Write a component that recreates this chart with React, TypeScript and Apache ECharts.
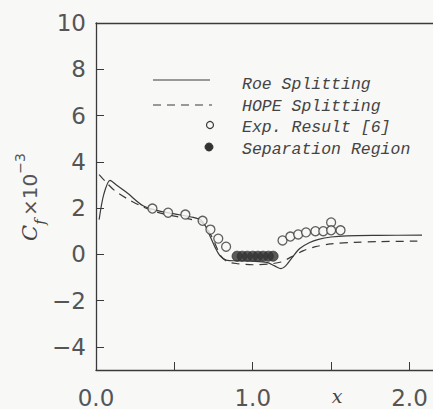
import React, { useEffect, useRef } from "react";
import * as echarts from "echarts";

// Roe Splitting (solid)
const roeX = [0.02, 0.05, 0.09, 0.13, 0.2, 0.3, 0.4, 0.5, 0.62, 0.67, 0.7, 0.73, 0.76, 0.79, 0.83, 0.9, 1.0, 1.09, 1.14, 1.18, 1.21, 1.25, 1.3, 1.36, 1.42, 1.5, 1.6, 1.8, 2.08];
const roeY = [1.5, 2.6, 3.2, 3.0, 2.65, 2.1, 1.88, 1.75, 1.6, 1.48, 1.2, 0.75, 0.3, -0.05, -0.25, -0.28, -0.3, -0.35, -0.5, -0.62, -0.5, -0.15, 0.25, 0.5, 0.65, 0.75, 0.8, 0.82, 0.83];

// HOPE Splitting (dashed)
const hopeX = [0.02, 0.06, 0.12, 0.2, 0.3, 0.4, 0.5, 0.6, 0.67, 0.71, 0.74, 0.77, 0.8, 0.84, 0.9, 1.0, 1.1, 1.18, 1.25, 1.32, 1.4, 1.5, 1.65, 1.8, 2.05];
const hopeY = [3.45, 3.15, 2.75, 2.4, 2.05, 1.8, 1.65, 1.52, 1.4, 1.1, 0.75, 0.3, -0.1, -0.32, -0.4, -0.45, -0.42, -0.33, -0.1, 0.15, 0.33, 0.45, 0.52, 0.55, 0.57];

// Exp. Result [6] (open circles)
const expX = [0.36, 0.46, 0.57, 0.68, 0.73, 0.78, 0.83, 1.19, 1.24, 1.29, 1.34, 1.4, 1.45, 1.5, 1.5, 1.56];
const expY = [1.98, 1.8, 1.72, 1.45, 1.07, 0.68, 0.33, 0.6, 0.77, 0.86, 0.95, 1.0, 1.0, 1.38, 1.04, 1.04];

// Separation Region (filled circles)
const sepX = [0.9, 0.933, 0.966, 1.0, 1.033, 1.066, 1.1, 1.13];
const sepY = [-0.08, -0.08, -0.08, -0.08, -0.08, -0.08, -0.08, -0.08];

const yTicks = [-4, -2, 0, 2, 4, 6, 8, 10];
const xLabelValues = [0, 1, 1.5, 2];
const xTickValues = [0.5, 1, 1.5, 2];
const legendNames = ["Roe Splitting", "HOPE Splitting", "Exp. Result [6]", "Separation Region"];

const zip = (xs: number[], ys: number[]) => xs.map((x, i) => [x, ys[i]]);

const INK = "#3a3a3a";
const BG = "#f8f8f6";

export default function App() {
  const ref = useRef<HTMLDivElement>(null);
  useEffect(() => {
    if (!ref.current) return;
    const chart = echarts.init(ref.current, undefined, { renderer: "svg" });
    const legendFont = {
      fontFamily: "Liberation Mono",
      fontStyle: "italic",
      fontSize: 16.5,
      fill: "#444",
    };
    chart.setOption({
      animation: false,
      backgroundColor: BG,
      grid: { left: 96, top: 23, right: 0, bottom: 39 },
      xAxis: [
        {
          type: "value",
          min: 0,
          max: 2.15,
          position: "bottom",
          splitLine: { show: false },
          axisLine: { show: true, onZero: false, lineStyle: { color: INK, width: 1.3 } },
          axisTick: { show: true, inside: true, length: 8, customValues: xTickValues, lineStyle: { color: INK, width: 1 } },
          axisLabel: {
            show: true,
            customValues: xLabelValues,
            margin: 16,
            fontFamily: "DejaVu Sans",
            fontSize: 23,
            color: "#555",
            formatter: (v: number) => (v === 1.5 ? "{i|x}" : v.toFixed(1)),
            rich: {
              i: {
                fontFamily: "DejaVu Serif",
                fontStyle: "italic",
                fontSize: 19,
                color: "#444",
                padding: [0, 0, 0, 12],
              },
            },
          },
        },
        {
          type: "value",
          min: 0,
          max: 2.15,
          position: "top",
          splitLine: { show: false },
          axisLine: { show: true, onZero: false, lineStyle: { color: INK, width: 1.3 } },
          axisTick: { show: false },
          axisLabel: { show: false },
        },
      ],
      yAxis: {
        type: "value",
        min: -5,
        max: 10,
        splitLine: { show: false },
        axisLine: { show: true, onZero: false, lineStyle: { color: INK, width: 1.3 } },
        axisTick: { show: true, inside: true, length: 8, customValues: yTicks, lineStyle: { color: INK, width: 1 } },
        axisLabel: {
          customValues: yTicks,
          margin: 10,
          fontFamily: "DejaVu Sans",
          fontSize: 23,
          color: "#555",
          formatter: (v: number) => (v < 0 ? "\u2212" + Math.abs(v) : String(v)),
        },
      },
      series: [
        {
          name: legendNames[0],
          type: "line",
          data: zip(roeX, roeY),
          showSymbol: false,
          smooth: 0.3,
          lineStyle: { color: INK, width: 1.2 },
          z: 3,
        },
        {
          name: legendNames[1],
          type: "line",
          data: zip(hopeX, hopeY),
          showSymbol: false,
          smooth: 0.3,
          lineStyle: { color: INK, width: 1.2, type: [8, 6] },
          z: 3,
        },
        {
          name: legendNames[2],
          type: "scatter",
          data: zip(expX, expY),
          symbol: "circle",
          symbolSize: 9,
          itemStyle: { color: BG, borderColor: INK, borderWidth: 1.3 },
          z: 4,
        },
        {
          name: legendNames[3],
          type: "scatter",
          data: zip(sepX, sepY),
          symbol: "circle",
          symbolSize: 10,
          itemStyle: { color: "#333", borderColor: "#333", borderWidth: 1 },
          z: 5,
        },
      ],
      graphic: [
        { type: "line", shape: { x1: 153, y1: 80, x2: 210, y2: 80 }, style: { stroke: INK, lineWidth: 1.2 } },
        { type: "line", shape: { x1: 153, y1: 105, x2: 212, y2: 105 }, style: { stroke: INK, lineWidth: 1.2, lineDash: [8, 6] } },
        { type: "circle", shape: { cx: 210, cy: 125, r: 3.5 }, style: { fill: BG, stroke: INK, lineWidth: 1.2 } },
        { type: "circle", shape: { cx: 209, cy: 147, r: 4 }, style: { fill: "#333", stroke: "#333" } },
        { type: "text", x: 242, y: 84, style: { ...legendFont, text: legendNames[0], verticalAlign: "middle" } },
        { type: "text", x: 242, y: 106, style: { ...legendFont, text: legendNames[1], verticalAlign: "middle" } },
        { type: "text", x: 242, y: 127, style: { ...legendFont, text: legendNames[2], verticalAlign: "middle" } },
        { type: "text", x: 242, y: 149, style: { ...legendFont, text: legendNames[3], verticalAlign: "middle" } },
        {
          type: "text",
          x: 30,
          y: 197,
          rotation: Math.PI / 2,
          style: {
            text: "{c|C}{f|f} {m|\u00d710}{s|\u22123}",
            align: "center",
            verticalAlign: "middle",
            fill: "#444",
            rich: {
              c: { fontFamily: "DejaVu Serif", fontStyle: "italic", fontSize: 21, lineHeight: 34, fill: "#444" },
              f: { fontFamily: "DejaVu Serif", fontStyle: "italic", fontSize: 15, lineHeight: 16, verticalAlign: "bottom", fill: "#444" },
              m: { fontFamily: "DejaVu Sans", fontSize: 20, lineHeight: 34, fill: "#555" },
              s: { fontFamily: "DejaVu Sans", fontSize: 14, lineHeight: 16, verticalAlign: "top", fill: "#555" },
            },
          },
        },
      ],
    });
    return () => chart.dispose();
  }, []);
  return (
    <div
      ref={ref}
      style={{ position: "fixed", left: 0, top: 0, width: 433, height: 409 }}
    />
  );
}
